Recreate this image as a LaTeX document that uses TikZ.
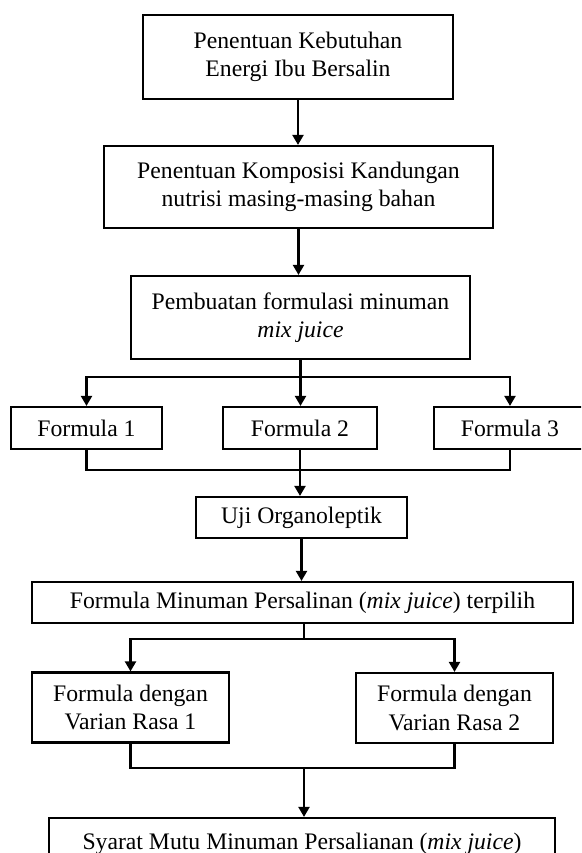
\documentclass[tikz,border=0pt]{standalone}
\usepackage{fontspec}
\setmainfont{Liberation Serif}
\usetikzlibrary{arrows.meta}
\begin{document}
\begin{tikzpicture}[x=1pt,y=-1pt,
  box/.style={draw,line width=2.2pt,rectangle,inner sep=0pt,align=center,
    font=\fontsize{23.7}{28.5}\selectfont},
  conn/.style={line width=2.2pt},
  arr/.style={line width=2.2pt,-{Triangle[width=11pt,length=10pt]}}]
\clip (0,0) rectangle (581,853);
\useasboundingbox (0,0) rectangle (581,853);
\node[box,minimum width=310pt,minimum height=84pt] (b1) at (298,57) {Penentuan Kebutuhan\\Energi Ibu Bersalin};
\node[box,minimum width=389pt,minimum height=82pt] (b2) at (298.5,187) {Penentuan Komposisi Kandungan\\nutrisi masing-masing bahan};
\node[box,minimum width=339pt,minimum height=83pt] (b3) at (300.5,317.5) {Pembuatan formulasi minuman\\\textit{mix juice}};
\node[box,minimum width=151pt,minimum height=42pt] (f1) at (86.5,428) {Formula 1};
\node[box,minimum width=154pt,minimum height=42pt] (f2) at (300,428) {Formula 2};
\node[box,minimum width=152pt,minimum height=42pt] (f3) at (510,428) {Formula 3};
\node[box,minimum width=211pt,minimum height=41pt] (uji) at (301.5,517.5) {Uji Organoleptik};
\node[box,minimum width=541pt,minimum height=41pt] (fm) at (302.5,602.5) {Formula Minuman Persalinan (\textit{mix juice}) terpilih};
\node[box,minimum width=197pt,minimum height=70pt] (v1) at (130.5,707.5) {Formula dengan\\Varian Rasa 1};
\node[box,minimum width=197pt,minimum height=70pt] (v2) at (454.5,708) {Formula dengan\\Varian Rasa 2};
\node[box,minimum width=506pt,minimum height=60pt,text depth=14pt] (sy) at (302,848) {Syarat Mutu Minuman Persalianan (\textit{mix juice})};
% connectors
\draw[arr] (b1.south) -- (b1.south |- b2.north);
\draw[arr] (b2.south) -- (b2.south |- b3.north);
\coordinate (s3) at (300.5,377);
\draw[conn] (b3.south) -- (s3);
\draw[arr] (s3) -| (f1.north);
\draw[arr] (s3) -| (f3.north);
\draw[arr] (s3) -- (s3 |- f2.north);
\coordinate (m3) at (300,470);
\draw[conn] (f1.south) |- (m3);
\draw[conn] (f3.south) |- (m3);
\draw[arr] (f2.south) -- (f2.south |- uji.north);
\draw[arr] (uji.south) -- (uji.south |- fm.north);
\coordinate (s4) at (304,639);
\draw[conn] (fm.south -| s4) -- (s4);
\draw[arr] (s4) -| (v1.north);
\draw[arr] (s4) -| (v2.north);
\coordinate (m4) at (304,768);
\draw[conn] (v1.south) |- (m4);
\draw[conn] (v2.south) |- (m4);
\draw[arr] (m4) -- (m4 |- sy.north);
\end{tikzpicture}
\end{document}
